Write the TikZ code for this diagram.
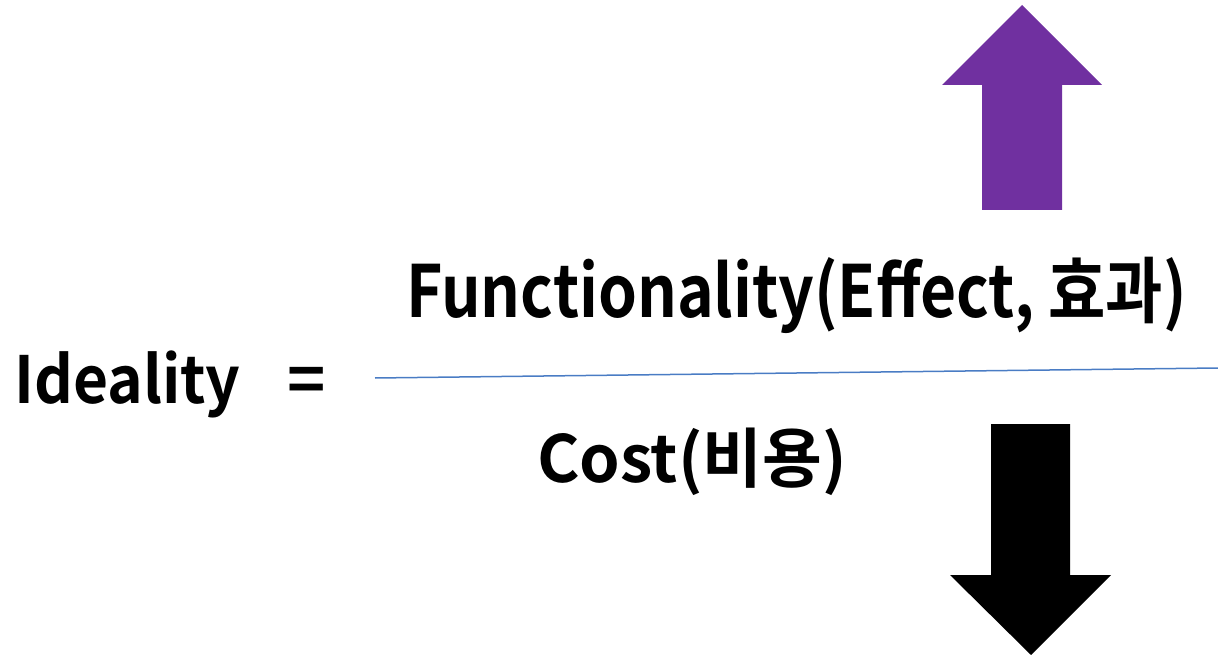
\documentclass[tikz,border=0pt]{standalone}
\usepackage{fontspec}
\usepackage{xcolor}
\setmainfont{Noto Sans CJK KR}[BoldFont=* Bold]
\definecolor{idPurple}{HTML}{7030A0}
\definecolor{idLine}{HTML}{4A7CC4}
\tikzset{
  idText/.style={font=\bfseries, inner sep=0pt, anchor=base west},
}
\begin{document}
\begin{tikzpicture}[x=1pt,y=-1pt]
\useasboundingbox (0,0) rectangle (1218,655);
% up and down arrows
\fill[idPurple] (982,210)--(982,85)--(942,85)--(1022,5)--(1102,85)--(1062,85)--(1062,210)--cycle;
\fill[black] (991,424)--(1070,424)--(1070,575)--(1111,575)--(1031,655)--(950,575)--(991,575)--cycle;
% texts
\node[idText,font=\fontsize{65}{70}\bfseries,xscale=0.93] (ideal) at (14,403) {Ideality};
\node[idText,font=\fontsize{65}{70}\bfseries] (eq) at (287,403) {=};
\node[idText,font=\fontsize{72}{78}\bfseries,xscale=0.865] (func) at (406,317) {Functionality(Effect, 효과)};
\node[idText,font=\fontsize{65}{70}\bfseries] (cost) at (537,482) {Cost(비용)};
% fraction line
\coordinate (fracL) at (375,378);
\coordinate (fracR) at (1218,368);
\draw[idLine,line width=1.5pt] (fracL) -- (fracR);
\end{tikzpicture}
\end{document}
